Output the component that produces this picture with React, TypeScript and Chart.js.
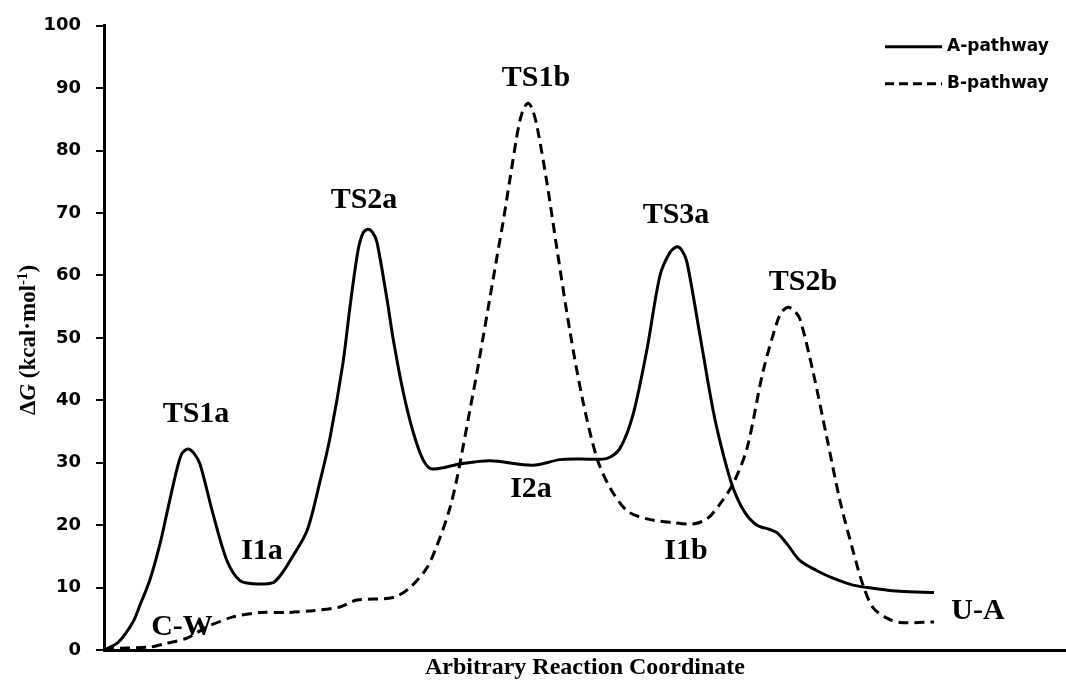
import React, { useEffect, useRef } from "react";
import { Chart, registerables } from "chart.js";

Chart.register(...registerables);

// Arbitrary reaction coordinate (x) and ΔG values (kcal/mol)
const coordA = [0, 14, 29, 36, 46, 56, 63, 73, 78, 84, 90, 96, 109, 123, 136, 149, 169, 178, 186, 203, 216, 226, 239, 246, 254, 259, 264, 269, 273, 283, 289, 299, 309, 319, 328, 356, 386, 429, 456, 476, 503, 516, 529, 543, 556, 566, 573, 578, 583, 596, 609, 619, 629, 641, 653, 666, 673, 683, 696, 713, 729, 749, 769, 796, 830];
const energyA = [0.0, 1.2, 4.5, 7.2, 11.3, 17.0, 22.0, 29.0, 31.5, 32.2, 31.5, 29.8, 21.8, 14.3, 11.1, 10.6, 10.8, 12.3, 14.3, 19.1, 27.0, 34.0, 46.0, 55.0, 64.0, 66.8, 67.4, 66.8, 65.3, 56.2, 50.0, 41.5, 35.0, 30.5, 29.0, 29.8, 30.3, 29.6, 30.5, 30.6, 30.7, 32.3, 37.7, 48.2, 60.0, 63.7, 64.6, 64.0, 62.1, 50.4, 38.5, 31.5, 26.0, 22.0, 20.0, 19.3, 18.8, 17.0, 14.3, 12.7, 11.5, 10.4, 9.9, 9.4, 9.2];

const coordB = [0, 46, 63, 83, 103, 129, 156, 183, 209, 236, 253, 289, 306, 323, 336, 346, 353, 359, 366, 373, 379, 386, 393, 399, 406, 412, 416, 420, 424, 428, 433, 443, 453, 466, 479, 493, 506, 523, 543, 569, 589, 603, 616, 629, 643, 659, 673, 678, 684, 690, 696, 709, 723, 736, 749, 759, 769, 783, 796, 830];
const energyB = [0.2, 0.5, 1.1, 1.9, 3.7, 5.3, 6.0, 6.0, 6.3, 6.9, 8.0, 8.4, 10.0, 13.2, 18.0, 22.8, 27.5, 32.5, 38.5, 44.5, 50.0, 56.5, 63.0, 68.5, 75.5, 81.5, 84.9, 86.8, 87.6, 86.8, 83.9, 74.8, 64.2, 51.0, 39.8, 30.7, 26.0, 22.3, 21.0, 20.4, 20.2, 21.0, 23.4, 26.6, 32.3, 44.6, 52.5, 54.2, 54.9, 54.4, 53.0, 44.6, 33.9, 23.9, 15.9, 10.4, 6.8, 5.1, 4.4, 4.5];

const seriesNames = ["A-pathway", "B-pathway"];

const stateLabels = ["TS1a", "C-W", "I1a", "TS2a", "TS1b", "I2a", "TS3a", "I1b", "TS2b", "U-A"];
const stateCoords = [92, 78, 158, 260, 432, 427, 572, 582, 699, 874];
const stateEnergies = [37.7, 3.7, 15.8, 72.1, 91.6, 25.8, 69.6, 15.9, 58.9, 6.2];

const yTicks = [0, 10, 20, 30, 40, 50, 60, 70, 80, 90, 100];
const xTitle = "Arbitrary Reaction Coordinate";

const SERIF = "'Liberation Serif', 'Times New Roman', serif";
const SANS = "'DejaVu Sans', sans-serif";

const overlayPlugin = {
  id: "overlay",
  afterDraw(chart: any) {
    const { ctx, chartArea, scales } = chart;
    const xs = scales.x;
    const ys = scales.y;
    ctx.save();
    // state labels
    ctx.fillStyle = "#000";
    ctx.font = `bold 30px ${SERIF}`;
    ctx.textAlign = "center";
    ctx.textBaseline = "middle";
    stateLabels.forEach((t, i) => {
      ctx.fillText(t, xs.getPixelForValue(stateCoords[i]), ys.getPixelForValue(stateEnergies[i]));
    });

    // legend
    const lx0 = chartArea.right - 181;
    const lx1 = chartArea.right - 124;
    const rows = [chartArea.top + 21, chartArea.top + 58];
    ctx.lineWidth = 3;
    ctx.strokeStyle = "#000";
    seriesNames.forEach((name, i) => {
      ctx.beginPath();
      ctx.setLineDash(i === 0 ? [] : [9, 5]);
      ctx.moveTo(lx0, rows[i]);
      ctx.lineTo(lx1, rows[i]);
      ctx.stroke();
      ctx.setLineDash([]);
      ctx.font = `bold 17px ${SANS}`;
      ctx.textAlign = "left";
      ctx.textBaseline = "middle";
      ctx.fillText(name, lx1 + 5, rows[i]);
    });

    // y-axis title: ΔG (kcal·mol-1)
    const cy = (chartArea.top + chartArea.bottom) / 2 + 2;
    const cx = 28;
    ctx.translate(cx, cy);
    ctx.rotate(-Math.PI / 2);
    const parts = [
      { t: "Δ", f: `bold 23px ${SERIF}`, dy: 0 },
      { t: "G", f: `italic bold 23px ${SERIF}`, dy: 0 },
      { t: " (kcal·mol", f: `bold 23px ${SERIF}`, dy: 0 },
      { t: "-1", f: `bold 15px ${SERIF}`, dy: -8 },
      { t: ")", f: `bold 23px ${SERIF}`, dy: 0 },
    ];
    let total = 0;
    parts.forEach((p) => {
      ctx.font = p.f;
      total += ctx.measureText(p.t).width;
    });
    let x = -total / 2;
    ctx.textAlign = "left";
    ctx.textBaseline = "alphabetic";
    parts.forEach((p) => {
      ctx.font = p.f;
      ctx.fillText(p.t, x, 7 + p.dy);
      x += ctx.measureText(p.t).width;
    });
    ctx.restore();
  },
};

export default function App() {
  const ref = useRef<HTMLCanvasElement | null>(null);
  useEffect(() => {
    if (!ref.current) return;
    const chart = new Chart(ref.current, {
      type: "line",
      data: {
        datasets: [
          {
            label: seriesNames[0],
            data: coordA.map((c, i) => ({ x: c, y: energyA[i] })),
            borderColor: "#000",
            borderWidth: 3,
            pointRadius: 0,
            fill: false,
            tension: 0.3,
          },
          {
            label: seriesNames[1],
            data: coordB.map((c, i) => ({ x: c, y: energyB[i] })),
            borderColor: "#000",
            borderWidth: 3,
            borderDash: [10, 6],
            pointRadius: 0,
            fill: false,
            tension: 0.3,
          },
        ],
      },
      options: {
        animation: false,
        responsive: false,
        devicePixelRatio: 1,
        layout: { padding: { top: 20, right: 0, bottom: 0, left: 0 } },
        plugins: {
          legend: { display: false },
          tooltip: { enabled: false },
        },
        scales: {
          x: {
            type: "linear",
            min: 0,
            max: 962,
            ticks: { display: false },
            grid: { display: false },
            border: { display: true, color: "#000", width: 3 },
            title: {
              display: true,
              text: xTitle,
              color: "#000",
              font: { family: SERIF, weight: "bold", size: 24, lineHeight: 1 },
              padding: { top: 0, bottom: 0 },
            },
            afterFit: (s: any) => {
              s.height = 30;
            },
          },
          y: {
            type: "linear",
            min: 0,
            max: 100,
            afterBuildTicks: (s: any) => {
              s.ticks = yTicks.map((v) => ({ value: v }));
            },
            ticks: {
              color: "#000",
              font: { family: SANS, weight: "bold", size: 18 },
              padding: 15,
            },
            grid: {
              display: true,
              drawOnChartArea: false,
              drawTicks: true,
              tickLength: 8,
              color: "#000",
              lineWidth: 2,
            },
            border: { display: true, color: "#000", width: 3 },
            afterFit: (s: any) => {
              s.width = 104;
            },
          },
        },
      },
      plugins: [overlayPlugin],
    } as any);
    return () => chart.destroy();
  }, []);
  return (
    <div style={{ position: "fixed", left: 0, top: 0, width: 1066, height: 680, background: "#fff" }}>
      <canvas ref={ref} width={1066} height={680} style={{ display: "block" }} />
    </div>
  );
}
